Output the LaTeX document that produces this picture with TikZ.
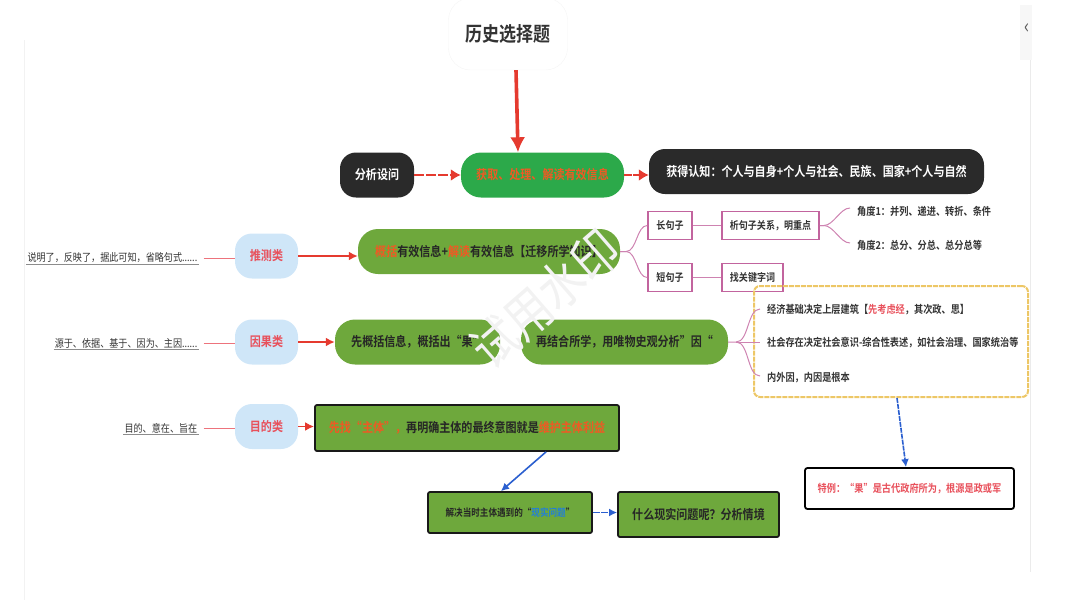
\documentclass[tikz,border=0pt]{standalone}
\usepackage{fontspec}
\setmainfont{Noto Sans CJK SC}[BoldFont={* Bold},FakeStretch=0.85]
\usetikzlibrary{arrows.meta,calc}
\newcommand\cnc{\char"FF0C\relax}
\newcommand\cnk{\char"FF1A\relax}
\newcommand\cnq{\char"FF1F\relax}
\definecolor{darkbg}{HTML}{2A2A2A}
\definecolor{vivid}{HTML}{2CA94A}
\definecolor{olive}{HTML}{6EA83C}
\definecolor{sky}{HTML}{CFE6F8}
\definecolor{redar}{HTML}{E53A2F}
\definecolor{orred}{HTML}{EE5A24}
\definecolor{softred}{HTML}{E8505B}
\definecolor{pinkb}{HTML}{C2649E}
\definecolor{amber}{HTML}{EDC766}
\definecolor{bluea}{HTML}{2B5FCF}
\definecolor{txt}{HTML}{333333}
\tikzset{
  x=1pt,y=-1pt,
  box/.style={minimum width=#1,inner sep=0pt,align=center,font=\fontsize{13}{15}\selectfont\bfseries},
  darkpill/.style={box=#1,fill=darkbg,text=white,minimum height=45pt,rounded corners=16pt},
  greenpill/.style={box=#1,fill=olive,text=black!85,minimum height=45pt,rounded corners=20pt},
  bluepill/.style={box=63pt,fill=sky,text=softred,minimum height=45pt,rounded corners=17pt,font=\fontsize{13}{15}\selectfont\bfseries},
  greenrect/.style={box=#1,fill=olive,text=black!85,draw=black!90,line width=1.8pt,rounded corners=2pt},
  pinkbox/.style={box=#1,draw=pinkb,line width=1.6pt,minimum height=28pt,text=txt,font=\fontsize{10.6}{12}\selectfont\bfseries},
  plain/.style={inner sep=0pt,text=txt,font=\fontsize{10.8}{12}\selectfont\bfseries},
  cue/.style={inner sep=1pt,text=txt,anchor=east,font=\fontsize{10.7}{12}\selectfont},
  redarrow/.style={draw=redar,line width=2.2pt,-{Latex[length=9pt,width=9pt]}},
  thinred/.style={draw=softred!80,line width=.9pt,shorten <=5pt},
  branch/.style={draw=pinkb!80,line width=1pt},
  bluearrow/.style={draw=bluea,line width=1.6pt,-{Latex[length=8pt,width=8pt]}},
}
\begin{document}
\begin{tikzpicture}
\useasboundingbox (0,0) rectangle (1080,608);
% page edges and side tab
\draw[black!5,line width=.8pt] (24,40) -- (24,600);
\draw[black!8,line width=.8pt] (1030,60) -- (1030,572);
\fill[black!3] (1020,5) rectangle (1032,60);
\node[inner sep=0pt,text=black!65,font=\fontsize{20}{20}\selectfont] (tab) at (1027.5,29) {‹};

% top row
\node[box=119pt,minimum height=72pt,rounded corners=22pt,fill=white,draw=black!4,text=black!80,font=\fontsize{20}{22}\selectfont\bfseries] (title) at (508,34) {历史选择题};
\node[darkpill=74pt] (q) at (377,175) {分析设问};
\node[box=163pt,fill=vivid,text=orred,minimum height=45pt,rounded corners=20pt] (info) at (542.5,175) {获取、处理、解读有效信息};
\node[darkpill=335pt] (know) at (816.5,171.5) {获得认知\cnk 个人与自身+个人与社会、民族、国家+个人与自然};
\draw[draw=redar,line width=3.6pt,-{Latex[length=15pt,width=15pt]}] (title.south -| 516,70) coordinate (t1) -- (info.north -| 518,153);
\draw[redarrow,line width=2.8pt,dash pattern=on 10pt off 2pt,-{Latex[length=10pt,width=12pt]}] (q) -- (info);
\draw[redarrow,line width=2.8pt,dash pattern=on 8pt off 1pt,-{Latex[length=10pt,width=12pt]}] (info.east) -- (know.west |- info.east);

% row 1
\node[bluepill] (p1) at (266.5,256) {推测类};
\node[cue] (c1) at (198.5,258) {说明了\cnc 反映了\cnc 据此可知\cnc 省略句式......};
\node[greenpill=262pt] (g1) at (489,251.5) {\textcolor{orred}{概括}有效信息+\textcolor{orred}{解读}有效信息【迁移所学知识】};
\node[pinkbox=44pt] (long) at (670,225.5) {长句子};
\node[pinkbox=44pt] (short) at (670,277.5) {短句子};
\node[pinkbox=97pt] (ana) at (770.5,225.5) {析句子关系\cnc 明重点};
\node[pinkbox=61pt] (key) at (752.5,277.5) {找关键字词};
\node[plain,anchor=west] (a1) at (857,211) {角度1\cnk 并列、递进、转折、条件};
\node[plain,anchor=west] (a2) at (857,245) {角度2\cnk 总分、分总、总分总等};
\coordinate (a1s) at (850,208);
\coordinate (a2s) at (850,243);
\draw[thinred] (c1.east) -- (p1.west |- c1.east);
\draw[redarrow] (p1.east) -- (g1.west |- p1.east);
\draw[branch] (g1.east) -- ++(6,0) to[out=0,in=180,looseness=.8] (long.west);
\draw[branch] (g1.east) -- ++(6,0) to[out=0,in=180,looseness=.8] (short.west);
\draw[branch] (long) -- (ana);
\draw[branch] (short) -- (key);
\draw[branch] (ana.east) -- ++(4,0) to[out=0,in=180,looseness=.8] (a1s);
\draw[branch] (ana.east) -- ++(4,0) to[out=0,in=180,looseness=.8] (a2s);

% row 2
\node[bluepill] (p2) at (266.5,342) {因果类};
\node[cue] (c2) at (198.5,343) {源于、依据、基于、因为、主因......};
\node[greenpill=165pt] (g2) at (417.5,342) {先概括信息\cnc 概括出“果”};
\node[greenpill=207pt] (g3) at (624.5,342) {再结合所学\cnc 用唯物史观分析”因“};
\node[box=274pt,minimum height=111pt,rounded corners=6pt,draw=amber,line width=2pt,dash pattern=on 5pt off 1pt] (frame) at (891,341.5) {};
\node[plain,anchor=west] (l1) at (767,309.5) {经济基础决定上层建筑【\textcolor{softred}{先考虑经}\cnc 其次政、思】};
\node[plain,anchor=west] (l2) at (767,343) {社会存在决定社会意识-综合性表述\cnc 如社会治理、国家统治等};
\node[plain,anchor=west] (l3) at (767,378) {内外因\cnc 内因是根本};
\coordinate (l1s) at (760,309);
\coordinate (l2s) at (760,342);
\coordinate (l3s) at (760,376);
\draw[thinred] (c2.east) -- (p2.west |- c2.east);
\draw[redarrow] (p2.east) -- (g2.west |- p2.east);
\draw[branch] (g3.east) -- ++(8,0) coordinate (fork) to[out=0,in=180,looseness=.8] (l1s);
\draw[branch] (fork) -- (l2s);
\draw[branch] (fork) to[out=0,in=180,looseness=.8] (l3s);
\node[box=209pt,minimum height=41pt,draw=black,line width=1.8pt,rounded corners=2.5pt,text=softred,font=\fontsize{10.8}{12}\selectfont\bfseries] (ex) at (909.5,488.5) {特例\cnk “果”是古代政府所为\cnc 根源是政或军};
\draw[bluearrow,dash pattern=on 5pt off 1pt] (frame.south -| 897,397) -- (ex.north -| 906,468);

% row 3
\node[bluepill] (p3) at (266.5,426.5) {目的类};
\node[cue] (c3) at (198.5,428) {目的、意在、旨在};
\node[greenrect=304pt,minimum height=46pt] (g4) at (467,428) {\textcolor{orred}{先找“主体”\cnc}再明确主体的最终意图就是\textcolor{orred}{维护主体利益}};
\node[greenrect=164pt,minimum height=41pt,font=\fontsize{10.1}{12}\selectfont\bfseries] (g5) at (510,512.5) {解决当时主体遇到的“\textcolor{bluea!80!cyan}{现实问题}”};
\node[greenrect=161pt,minimum height=45pt,font=\fontsize{13}{15}\selectfont\bfseries] (g6) at (698.5,514.5) {什么现实问题呢\cnq 分析情境};
\draw[thinred] (c3.east) -- (p3.west |- c3.east);
\draw[redarrow,line width=1.8pt] (p3.east) -- (g4.west |- p3.east);
\draw[bluearrow] (g4.south -| 546,451) -- (g5.north -| 501,492);
\draw[bluearrow,dash pattern=on 7pt off 1.5pt] (g5.east) -- (g6.west |- g5.east);

% cue underlines
\foreach \n in {c1,c2,c3} \draw[black!45,line width=.5pt] (\n.south west) -- (\n.south east);

% watermark
\node[rotate=41,inner sep=0pt,text=black!5,font=\fontsize{52}{52}\selectfont] (wm) at (545,299) {试用水印};
\end{tikzpicture}
\end{document}
